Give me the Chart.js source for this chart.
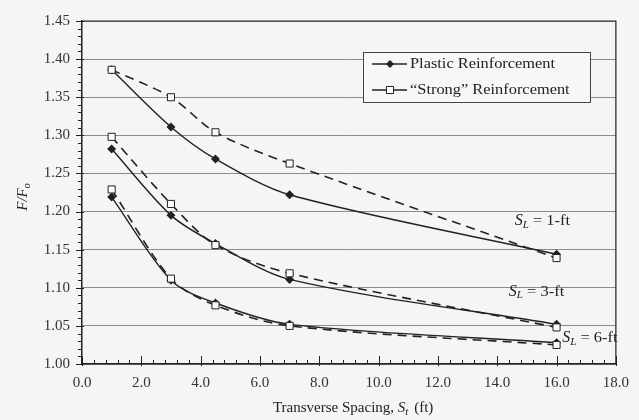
<!DOCTYPE html>
<html>
<head>
<meta charset="utf-8">
<script src="https://cdn.jsdelivr.net/npm/chart.js@4.4.1/dist/chart.umd.min.js"></script>
<style>
  html, body { margin: 0; padding: 0; background: #f5f5f3; }
  #wrap { width: 639px; height: 420px; position: relative; }
</style>
</head>
<body>
<div id="wrap"><canvas id="chart"></canvas></div>
<script>
// transverse spacing S_t (ft)
const spacing = [1, 3, 4.5, 7, 16];

// F/Fo for each longitudinal spacing
const plastic1 = [1.386, 1.311, 1.269, 1.222, 1.144];
const strong1  = [1.386, 1.350, 1.304, 1.263, 1.139];
const plastic3 = [1.282, 1.195, 1.158, 1.111, 1.052];
const strong3  = [1.298, 1.210, 1.156, 1.119, 1.048];
const plastic6 = [1.219, 1.110, 1.080, 1.052, 1.028];
const strong6  = [1.229, 1.112, 1.077, 1.050, 1.025];

const legendLabels = ['Plastic Reinforcement', '\u201cStrong\u201d Reinforcement'];

// curve labels: [text after "S_L = ", x value, y value]
const curveLabels = [
  ['1-ft', 15.6, 1.188],
  ['3-ft', 15.4, 1.095],
  ['6-ft', 17.2, 1.034]
];

const FONT = '"Liberation Serif", "Times New Roman", serif';
const INK = '#222';

function toPoints(ys) {
  return spacing.map((x, i) => ({ x: x, y: ys[i] }));
}

function plasticSet(ys) {
  return {
    data: toPoints(ys),
    order: 1,
    borderColor: INK,
    borderWidth: 1.4,
    pointStyle: 'rectRot',
    pointRadius: 3.5,
    pointBackgroundColor: INK,
    pointBorderColor: INK,
    tension: 0.3
  };
}

function strongSet(ys) {
  return {
    data: toPoints(ys),
    order: 0,
    borderColor: INK,
    borderWidth: 1.6,
    borderDash: [9, 6],
    pointStyle: 'rect',
    pointRadius: 5,
    pointBackgroundColor: '#fbfbfa',
    pointBorderColor: INK,
    pointBorderWidth: 1,
    tension: 0.3
  };
}

// draws main text in italic with a subscript, returns the end x
function subText(ctx, main, sub, x, y, size) {
  ctx.font = 'italic ' + size + 'px ' + FONT;
  ctx.fillText(main, x, y);
  let w = ctx.measureText(main).width;
  ctx.font = 'italic ' + Math.round(size * 0.7) + 'px ' + FONT;
  ctx.fillText(sub, x + w, y + size * 0.25);
  return x + w + ctx.measureText(sub).width;
}

// text a bit wider than the font, like the scanned figure
function wideText(ctx, txt, x, y, stretch) {
  ctx.save();
  ctx.translate(x, y);
  ctx.scale(stretch, 1);
  ctx.fillText(txt, 0, 0);
  ctx.restore();
  return x + ctx.measureText(txt).width * stretch;
}

const decorations = {
  id: 'decorations',
  afterDraw(chart) {
    const { ctx, chartArea: a, scales: { x, y } } = chart;
    ctx.save();
    ctx.strokeStyle = INK;
    ctx.fillStyle = INK;

    // top and right frame
    ctx.lineWidth = 1.2;
    ctx.beginPath();
    ctx.moveTo(a.left, a.top); ctx.lineTo(a.right, a.top); ctx.lineTo(a.right, a.bottom);
    ctx.stroke();

    // y ticks
    ctx.lineWidth = 1;
    ctx.beginPath();
    for (let i = 0; i <= 45; i++) {
      const py = Math.round(y.getPixelForValue(1 + i * 0.01)) + 0.5;
      const major = i % 5 === 0;
      ctx.moveTo(a.left - (major ? 6 : 4), py);
      ctx.lineTo(a.left + (major ? 2 : 0), py);
    }
    // x ticks
    for (let i = 0; i <= 45; i++) {
      const px = Math.round(x.getPixelForValue(i * 0.4)) + 0.5;
      const major = i % 5 === 0;
      ctx.moveTo(px, a.bottom + (major ? 2 : 0));
      ctx.lineTo(px, a.bottom - (major ? 8 : 4));
    }
    ctx.stroke();

    // y title F/Fo
    ctx.save();
    ctx.translate(23, 197);
    ctx.rotate(-Math.PI / 2);
    ctx.textBaseline = 'middle';
    ctx.font = 'italic 15px ' + FONT;
    const t1 = 'F/F';
    const w1 = ctx.measureText(t1).width;
    ctx.font = 'italic 10px ' + FONT;
    const w2 = ctx.measureText('o').width;
    ctx.font = 'italic 15px ' + FONT;
    ctx.fillText(t1, -(w1 + w2) / 2, 0);
    ctx.font = 'italic 10px ' + FONT;
    ctx.fillText('o', -(w1 + w2) / 2 + w1, 4);
    ctx.restore();

    // x title
    ctx.textBaseline = 'middle';
    ctx.font = '15px ' + FONT;
    const pre = 'Transverse Spacing, ';
    const post = ' (ft)';
    const wPre = ctx.measureText(pre).width;
    const wPost = ctx.measureText(post).width;
    ctx.font = 'italic 15px ' + FONT;
    const wS = ctx.measureText('S').width;
    ctx.font = 'italic 10px ' + FONT;
    const wT = ctx.measureText('t').width;
    let tx = 352 - (wPre + wS + wT + wPost) / 2;
    ctx.font = '15px ' + FONT;
    ctx.fillText(pre, tx, 408);
    tx = subText(ctx, 'S', 't', tx + wPre, 408, 15);
    ctx.font = '15px ' + FONT;
    ctx.fillText(post, tx + 2, 408);

    // curve labels
    curveLabels.forEach(([txt, vx, vy]) => {
      const px = x.getPixelForValue(vx) - 30;
      const py = y.getPixelForValue(vy);
      let ex = subText(ctx, 'S', 'L', px, py, 16);
      ctx.font = '15px ' + FONT;
      wideText(ctx, ' = ' + txt, ex, py, 1.1);
    });

    // legend box
    const lx = 363, ly = 52, lw = 227, lh = 50;
    ctx.fillStyle = '#f7f7f5';
    ctx.fillRect(lx, ly, lw, lh);
    ctx.strokeStyle = '#444';
    ctx.lineWidth = 1;
    ctx.strokeRect(lx + 0.5, ly + 0.5, lw, lh);
    const sets = [chart.data.datasets[0], chart.data.datasets[1]];
    sets.forEach((ds, i) => {
      const yy = ly + 12 + i * 26;
      ctx.strokeStyle = INK;
      ctx.lineWidth = 1.4;
      ctx.setLineDash([]);
      ctx.beginPath();
      ctx.moveTo(lx + 9, yy); ctx.lineTo(lx + 44, yy);
      ctx.stroke();
      ctx.fillStyle = ds.pointBackgroundColor;
      ctx.lineWidth = 1;
      Chart.helpers.drawPoint(ctx, {
        pointStyle: ds.pointStyle, radius: ds.pointRadius, borderWidth: 1, rotation: 0
      }, lx + 27, yy);
      ctx.fillStyle = INK;
      ctx.font = '14px ' + FONT;
      wideText(ctx, legendLabels[i], lx + 47, yy, 1.17);
    });
    ctx.restore();
  }
};

new Chart(document.getElementById('chart'), {
  type: 'line',
  data: {
    datasets: [
      plasticSet(plastic1), strongSet(strong1),
      plasticSet(plastic3), strongSet(strong3),
      plasticSet(plastic6), strongSet(strong6)
    ]
  },
  options: {
    responsive: true,
    maintainAspectRatio: false,
    animation: false,
    layout: { padding: { top: 18, right: 17, left: 0, bottom: 0 } },
    plugins: { legend: { display: false }, tooltip: { enabled: false } },
    scales: {
      x: {
        type: 'linear',
        min: 0,
        max: 18,
        afterFit: s => { s.height = 56; },
        grid: { display: false, drawTicks: false },
        border: { display: true, color: INK, width: 1.5 },
        ticks: {
          stepSize: 2,
          padding: 10,
          color: '#333',
          font: { family: FONT, size: 15 },
          maxRotation: 0,
          callback: v => v.toFixed(1)
        }
      },
      y: {
        min: 1.0,
        max: 1.45,
        afterFit: s => { s.width = 82; },
        grid: { color: '#8c8c8c', lineWidth: 1, drawTicks: false },
        border: { display: true, color: INK, width: 1.5 },
        ticks: {
          stepSize: 0.05,
          padding: 12,
          color: '#333',
          font: { family: FONT, size: 15 },
          callback: v => v.toFixed(2)
        }
      }
    }
  },
  plugins: [decorations]
});
</script>
</body>
</html>
